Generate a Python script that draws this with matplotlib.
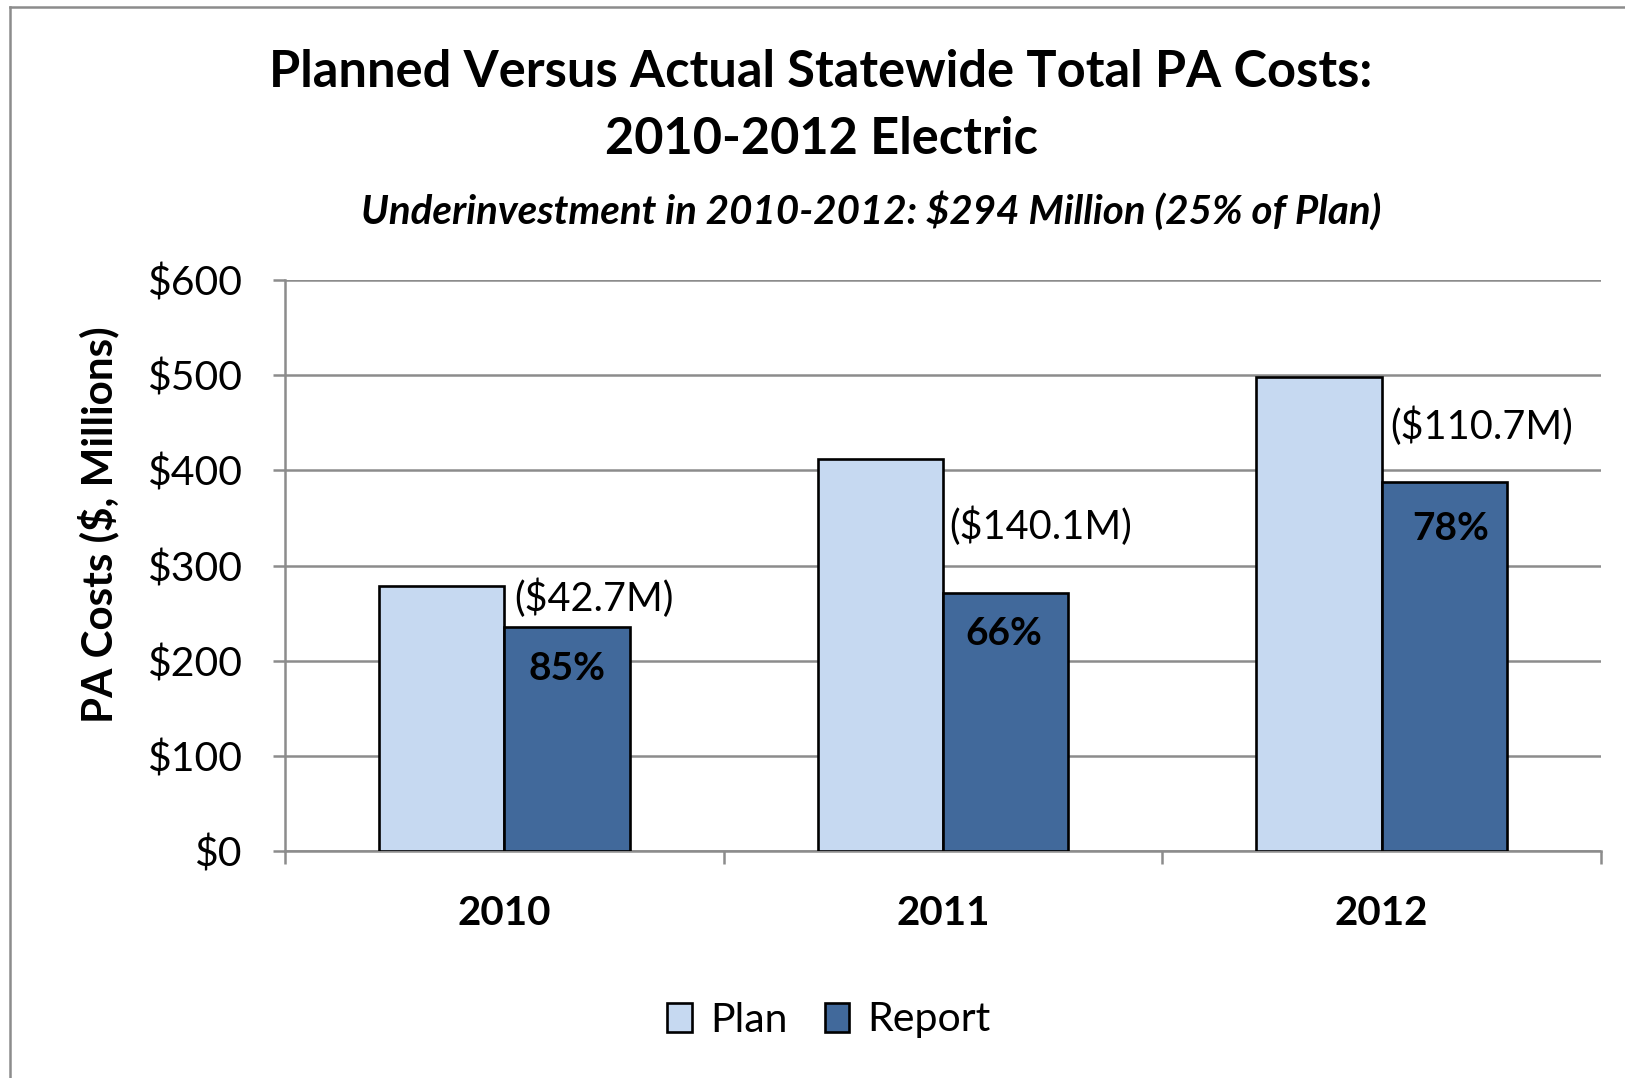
import matplotlib
matplotlib.use("Agg")
import matplotlib.pyplot as plt
from matplotlib.patches import Patch
from matplotlib.lines import Line2D
import numpy as np

years = ["2010", "2011", "2012"]
plan = [278.0, 411.7, 498.0]
report = [235.3, 271.6, 387.3]
gap_labels = ["($42.7M)", "($140.1M)", "($110.7M)"]
pct_labels = ["85%", "66%", "78%"]
yticks = [0, 100, 200, 300, 400, 500, 600]
ytick_labels = ["$0", "$100", "$200", "$300", "$400", "$500", "$600"]

FONT = ["Lato", "DejaVu Sans"]
plt.rcParams["font.family"] = FONT

W, H = 1625, 1078
fig = plt.figure(figsize=(W / 100, H / 100), dpi=100)
fig.patch.set_facecolor("white")

# outer border (top and left only visible)
fig.add_artist(Line2D([10 / W, 10 / W], [0, 1 - 7 / H], transform=fig.transFigure,
                      color="#8c8c8c", lw=1.8))
fig.add_artist(Line2D([10 / W, 1], [1 - 7 / H, 1 - 7 / H], transform=fig.transFigure,
                      color="#8c8c8c", lw=1.8))

ax = fig.add_axes([285 / W, 1 - 851 / H, (1601 - 285) / W, (851 - 280) / H])

plan_color = "#C6D9F1"
report_color = "#41699B"
grid_color = "#8c8c8c"

x = np.arange(len(years))
bw = 0.286
ax.bar(x - bw / 2, plan, bw, color=plan_color, edgecolor="black", linewidth=1.9, zorder=3,
       label="Plan")
ax.bar(x + bw / 2, report, bw, color=report_color, edgecolor="black", linewidth=1.9, zorder=3,
       label="Report")

ax.set_xlim(-0.5, 2.5)
ax.set_ylim(0, 600)
ax.set_yticks(yticks)
ax.set_yticklabels(ytick_labels, fontsize=29.5)
ax.yaxis.grid(True, color=grid_color, linewidth=1.8, zorder=0)
ax.set_axisbelow(True)

for s in ["top", "right"]:
    ax.spines[s].set_visible(False)
for s in ["left", "bottom"]:
    ax.spines[s].set_color(grid_color)
    ax.spines[s].set_linewidth(1.8)
ax.spines["left"].set_zorder(1)

ax.tick_params(axis="y", length=9, width=1.8, color=grid_color, pad=22)
ax.set_xticks(x)
ax.set_xticklabels(years, fontsize=29, fontweight="bold")
ax.set_xticks([-0.5, 0.5, 1.5, 2.5], minor=True)
ax.tick_params(axis="x", which="major", length=0, pad=32)
ax.tick_params(axis="x", which="minor", length=9, width=1.8, color=grid_color)

# gap labels and percent labels
gap_offsets = [(27, 28), (35, 64), (37, 54)]  # (dx px, dy px above report top)
pct_dx = [0, -2, 6]
pct_dy = [-40, -40, -44]
for i in range(len(years)):
    dx, dy = gap_offsets[i]
    ax.annotate(gap_labels[i], xy=(x[i] + bw / 2, report[i]), xytext=(dx * 0.72, dy * 0.72 * 1.036),
                textcoords="offset points", ha="center", va="center", fontsize=28.5, zorder=5)
    ax.annotate(pct_labels[i], xy=(x[i] + bw / 2, report[i]),
                xytext=(pct_dx[i] * 0.72, pct_dy[i] * 0.72 * 1.036),
                textcoords="offset points", ha="center", va="center", fontsize=28,
                fontweight="bold", zorder=5)

# titles
fig.text(821 / W, 1 - 72 / H, "Planned Versus Actual Statewide Total PA Costs:",
         ha="center", va="center", fontsize=36.4, fontweight="bold")
fig.text(821 / W, 1 - 140 / H, "2010-2012 Electric",
         ha="center", va="center", fontsize=36.4, fontweight="bold")
fig.text(871 / W, 1 - 211 / H, "Underinvestment in 2010-2012: $294 Million (25% of Plan)",
         ha="center", va="center", fontsize=29, fontweight="bold", style="italic")

fig.text(98 / W, 1 - 525 / H, "PA Costs ($, Millions)", rotation=90,
         ha="center", va="center", fontsize=30.3, fontweight="bold")

handles = [Patch(facecolor=plan_color, edgecolor="black", linewidth=1.9),
           Patch(facecolor=report_color, edgecolor="black", linewidth=1.9)]
fig.legend(handles, ["Plan", "Report"], loc="center", bbox_to_anchor=(829 / W, 1 - 1020 / H),
           ncol=2, frameon=False, fontsize=29.5, handlelength=0.6, handleheight=0.7,
           handletextpad=0.45, columnspacing=0.9)

fig.savefig("out.png", dpi=100, facecolor="white")
